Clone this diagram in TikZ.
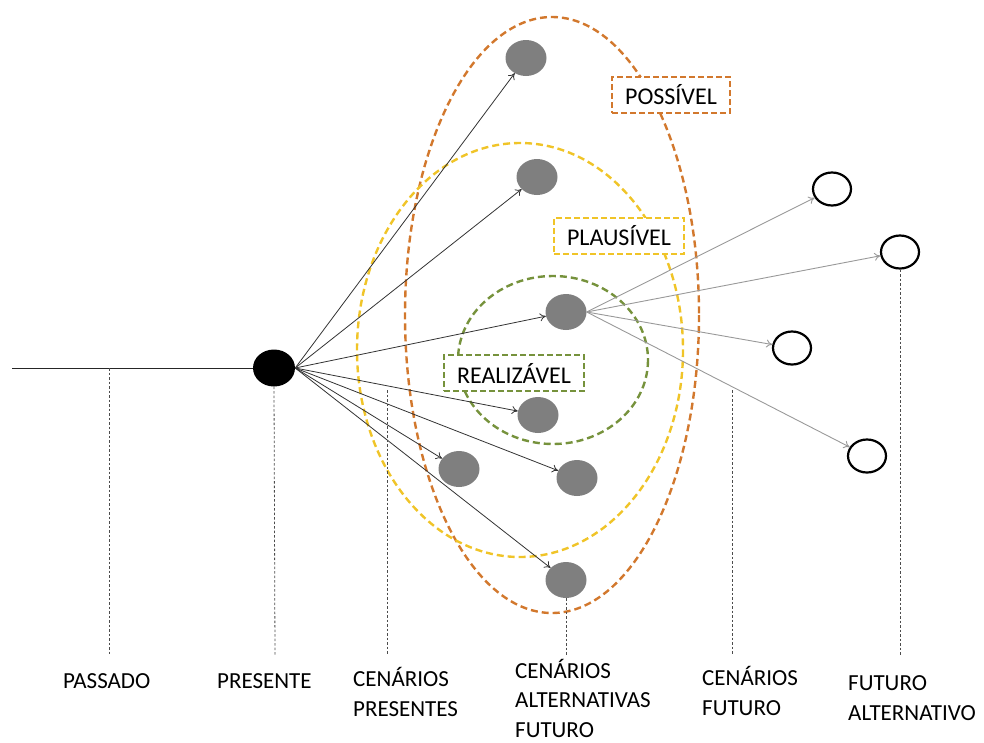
\documentclass[tikz,border=0pt]{standalone}
\usepackage{fontspec}
\setmainfont{Carlito}
\usetikzlibrary{shapes.geometric,arrows.meta}
\definecolor{possc}{HTML}{D2782D}
\definecolor{plauc}{HTML}{F0C428}
\definecolor{realc}{HTML}{76923C}
\definecolor{dotgray}{HTML}{7F7F7F}
\tikzset{
  gnode/.style={ellipse,fill=dotgray,minimum width=41pt,minimum height=36pt,inner sep=0pt},
  wnode/.style={ellipse,draw=black,line width=2.2pt,fill=white,minimum width=38pt,minimum height=33pt,inner sep=0pt},
  bnode/.style={ellipse,fill=black,minimum width=42pt,minimum height=37pt,inner sep=0pt},
  ring/.style={dashed,dash pattern=on 7pt off 4pt,line width=2.4pt},
  lbox/.style={draw,dash pattern=on 6pt off 3pt,line width=2pt,fill=white,inner xsep=13pt,inner ysep=8pt,font=\fontsize{24}{28}\selectfont},
  arrd/.style={draw=black!80,line width=0.8pt,-{To[length=6pt,width=8pt]}},
  arrg/.style={draw=black!40,line width=0.9pt,-{To[length=6pt,width=8pt]}},
  vdot/.style={draw=black!70,line width=0.8pt,dash pattern=on 2.5pt off 2pt},
  blab/.style={anchor=base west,align=left,inner sep=0pt,font=\fontsize{23}{29.5}\selectfont}
}
\begin{document}
\begin{tikzpicture}[x=1pt,y=-1pt]
\useasboundingbox (0,0) rectangle (984,742);
% containment ellipses
\draw[ring,possc] (552,315) ellipse [x radius=147,y radius=298];
\draw[ring,plauc] (520,350) ellipse [x radius=163,y radius=207];
\draw[ring,realc] (553,360) ellipse [x radius=95,y radius=84];
% nodes
\node[bnode] (b) at (274,368) {};
\node[gnode] (g1) at (526,58) {};
\node[gnode] (g2) at (537,177) {};
\node[gnode] (g3) at (566,312) {};
\node[gnode] (g4) at (538,415) {};
\node[gnode] (g5) at (459,469) {};
\node[gnode] (g6) at (577,478) {};
\node[gnode] (g7) at (566,580) {};
\node[wnode] (w1) at (832,189) {};
\node[wnode] (w2) at (900,252) {};
\node[wnode] (w3) at (792,348) {};
\node[wnode] (w4) at (867,456) {};
\coordinate (lstart) at (12,368);
\draw[black!85,line width=0.9pt] (lstart) -- (b);
% arrows from present
\foreach \t in {g1,g2,g3,g4,g5,g6,g7}{\draw[arrd] (b.east) -- (\t);}
% arrows to alternative futures
\foreach \t in {w1,w2,w3,w4}{\draw[arrg] (g3.east) -- (\t);}
% labels
\node[lbox,draw=possc] (lp) at (671,95) {POSSÍVEL};
\node[lbox,draw=plauc] (lpl) at (619,236) {PLAUSÍVEL};
\node[lbox,draw=realc] (lr) at (514,373) {REALIZÁVEL};
% bottom labels (positioned at the baseline of the last line)
\node[blab] (t1) at (63,688) {PASSADO};
\node[blab] (t2) at (217,688) {PRESENTE};
\node[blab] (t3) at (353,716) {CENÁRIOS\\PRESENTES};
\node[blab] (t4) at (515,737) {CENÁRIOS\\ALTERNATIVAS\\FUTURO};
\node[blab] (t5) at (702,715) {CENÁRIOS\\FUTURO};
\node[blab] (t6) at (848,720) {FUTURO\\ALTERNATIVO};
% dotted guides
\coordinate (d1a) at (109,368); \coordinate (d1b) at (109,655);
\coordinate (d3a) at (387,390); \coordinate (d3b) at (387,655);
\coordinate (d5a) at (732,390); \coordinate (d5b) at (732,655);
\coordinate (d2b) at (275,655);
\coordinate (d4b) at (566,655);
\coordinate (d6b) at (900,655);
\draw[vdot] (d1a) -- (d1b);
\draw[vdot] (b.south) -- (d2b);
\draw[vdot] (d3a) -- (d3b);
\draw[vdot] (g7.south) -- (d4b);
\draw[vdot] (d5a) -- (d5b);
\draw[vdot] (w2.south) -- (d6b);
\end{tikzpicture}
\end{document}
